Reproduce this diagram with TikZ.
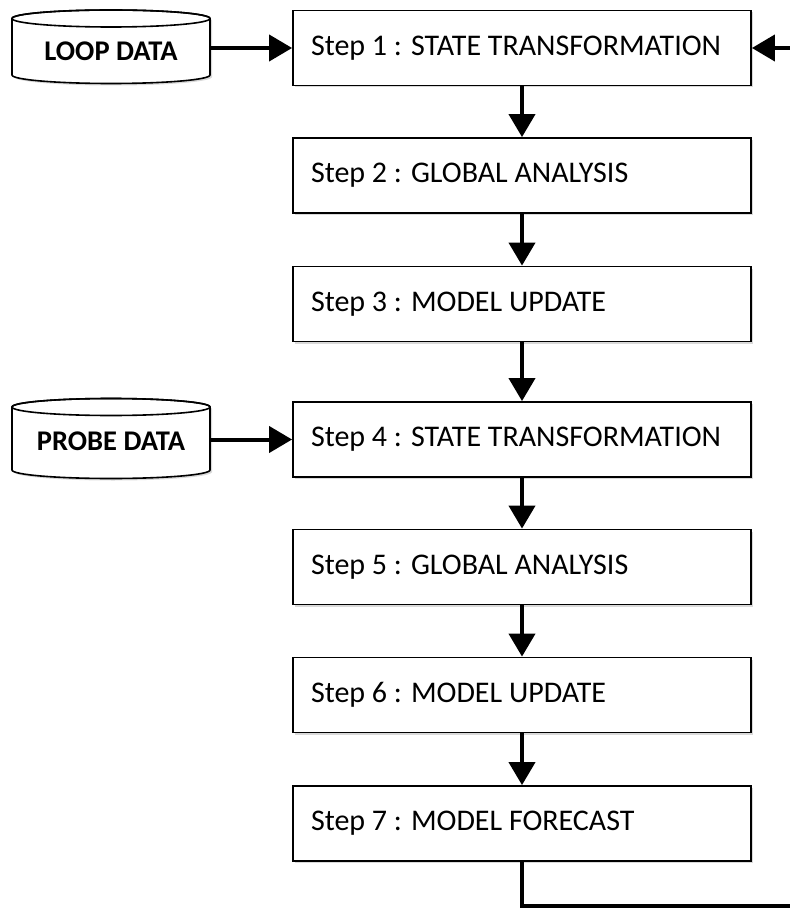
\documentclass[tikz,border=0pt]{standalone}
\usepackage{fontspec}
\setmainfont{Carlito}
\usetikzlibrary{arrows.meta,shadows}
\begin{document}
\begin{tikzpicture}[x=1pt,y=1pt,
  stepbox/.style={draw, line width=1.8pt, fill=white, minimum width=458pt, minimum height=75pt,
    text width=422pt, inner xsep=18pt, align=flush left, font=\fontsize{30}{34}\selectfont,
    drop shadow={opacity=0.3, shadow xshift=2pt, shadow yshift=-2pt}},
  cylshape/.style={line width=1.6pt, fill=white,
    drop shadow={opacity=0.3, shadow xshift=2pt, shadow yshift=-2pt}},
  cyllabel/.style={inner sep=0pt, minimum width=198pt, minimum height=60pt, font=\fontsize{28.5}{32}\selectfont\bfseries},
  flow/.style={line width=4pt, -{Triangle[length=23pt,width=26pt]}}]
\useasboundingbox (0,0) rectangle (789,-909);

% cylinders
\draw[cylshape] (12,-18.5) -- (12,-75) arc[start angle=180,end angle=360,x radius=99,y radius=8.5]
  -- (210,-18.5) arc[start angle=0,end angle=180,x radius=99,y radius=8.5] -- cycle;
\draw[line width=1.6pt] (111,-18.5) ellipse [x radius=99, y radius=8.5];
\node[cyllabel] (loop) at (111,-51) {LOOP DATA};

\draw[cylshape] (12,-407) -- (12,-470) arc[start angle=180,end angle=360,x radius=99,y radius=8.5]
  -- (210,-407) arc[start angle=0,end angle=180,x radius=99,y radius=8.5] -- cycle;
\draw[line width=1.6pt] (111,-407) ellipse [x radius=99, y radius=8.5];
\node[cyllabel] (probe) at (111,-441) {PROBE DATA};

% steps
\node[stepbox] (s1) at (522,-48) {Step 1 : STATE TRANSFORMATION};
\node[stepbox] (s2) at (522,-175.5) {Step 2 : GLOBAL ANALYSIS};
\node[stepbox] (s3) at (522,-304) {Step 3 : MODEL UPDATE};
\node[stepbox] (s4) at (522,-439.5) {Step 4 : STATE TRANSFORMATION};
\node[stepbox] (s5) at (522,-567) {Step 5 : GLOBAL ANALYSIS};
\node[stepbox] (s6) at (522,-695) {Step 6 : MODEL UPDATE};
\node[stepbox] (s7) at (522,-823.5) {Step 7 : MODEL FORECAST};

% connectors
\draw[flow] (s1.west -| loop.east) -- (s1.west);
\draw[flow] (s4.west -| probe.east) -- (s4.west);
\draw[flow] (s1) -- (s2);
\draw[flow] (s2) -- (s3);
\draw[flow] (s3) -- (s4);
\draw[flow] (s4) -- (s5);
\draw[flow] (s5) -- (s6);
\draw[flow] (s6) -- (s7);

\coordinate (fbA) at (522,-906);
\coordinate (fbB) at (800,-906);
\coordinate (fbC) at (800,-48);
\draw[flow, line join=miter] (s7.south) -- (fbA) -- (fbB) -- (fbC) -- (s1.east);
\end{tikzpicture}
\end{document}
